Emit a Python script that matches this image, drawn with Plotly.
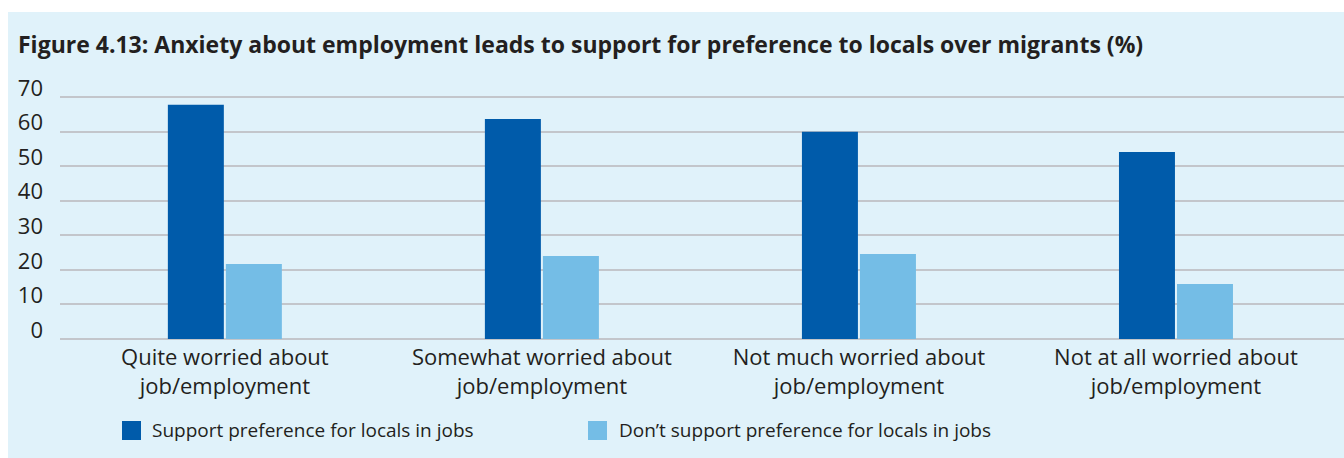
import plotly.graph_objects as go

# Survey results (%)
categories = [
    "Quite worried about<br>job/employment",
    "Somewhat worried about<br>job/employment",
    "Not much worried about<br>job/employment",
    "Not at all worried about<br>job/employment",
]
support = [67.7, 63.6, 59.9, 54.1]
dont_support = [21.7, 24.0, 24.6, 15.9]
series_names = [
    "Support preference for locals in jobs",
    "Don\u2019t support preference for locals in jobs",
]
series_colors = ["#005baa", "#74bde6"]
y_ticks = [0, 10, 20, 30, 40, 50, 60, 70]

title_text = ("<b>Figure 4.13: Anxiety about employment leads to support for "
              "preference to locals over migrants (%)</b>")

W, H = 1344, 458
M_L, M_R, M_T, M_B = 60, 0, 90, 119
PLOT_W = W - M_L - M_R
PLOT_H = H - M_T - M_B

PANEL_BG = "#e0f2fa"
TEXT = "#231f20"
GRID = "#c3c6cb"
FONT = "Open Sans"


def px_x(px):
    return (px - M_L) / PLOT_W


def px_y(py):
    return (H - M_B - py) / PLOT_H


fig = go.Figure()
for name, vals, col in zip(series_names, [support, dont_support], series_colors):
    fig.add_trace(go.Bar(x=categories, y=vals, name=name, marker_color=col,
                         marker_line_width=0, showlegend=False))

shapes = [
    # white margin strips around the tinted panel
    dict(type="rect", xref="paper", yref="paper", x0=px_x(0), x1=px_x(W),
         y0=px_y(12), y1=px_y(0), fillcolor="white", line_width=0, layer="below"),
    dict(type="rect", xref="paper", yref="paper", x0=px_x(0), x1=px_x(8),
         y0=px_y(H), y1=px_y(0), fillcolor="white", line_width=0, layer="below"),
]
annotations = []

# legend drawn as swatches + labels
legend_items = [(122, 150), (588, 617)]
for (sx, tx), name, col in zip(legend_items, series_names, series_colors):
    shapes.append(dict(type="rect", xref="paper", yref="paper",
                       x0=px_x(sx), x1=px_x(sx + 19), y0=px_y(440), y1=px_y(421),
                       fillcolor=col, line_width=0))
    annotations.append(dict(text=name, xref="paper", yref="paper",
                            x=px_x(tx), y=px_y(430), xanchor="left", yanchor="middle",
                            showarrow=False, font=dict(family=FONT, size=19, color=TEXT)))

fig.update_layout(
    width=W, height=H,
    margin=dict(l=M_L, r=M_R, t=M_T, b=M_B),
    paper_bgcolor=PANEL_BG, plot_bgcolor=PANEL_BG,
    barmode="group", bargap=0.634, bargroupgap=0.035,
    font=dict(family=FONT, color=TEXT),
    title=dict(text=title_text, xref="container", yref="container",
               x=18 / W, y=1 - 45 / H, xanchor="left", yanchor="middle",
               font=dict(family=FONT, size=23, color=TEXT)),
    shapes=shapes, annotations=annotations,
    showlegend=False,
)
fig.update_xaxes(range=[-0.52, 3.53], showgrid=False, showline=False, ticks="",
                 ticklabelstandoff=3,
                 tickfont=dict(family=FONT, size=22, color=TEXT), fixedrange=True)
fig.update_yaxes(range=[0, 72], tickvals=y_ticks, showgrid=True, gridcolor=GRID,
                 gridwidth=1.5, zeroline=True, zerolinecolor=GRID, zerolinewidth=1.5,
                 showline=False, ticks="", ticklabelstandoff=16, ticklabelshift=-9,
                 tickfont=dict(family=FONT, size=22, color=TEXT))

fig.write_html("out.html")
